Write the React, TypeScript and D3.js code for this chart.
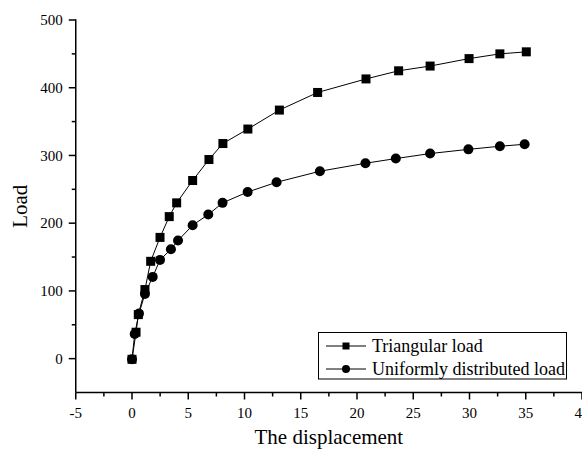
import React from "react";
import * as d3 from "d3";

const triX = [0, 0.36, 0.56, 1.15, 1.66, 2.49, 3.31, 3.97, 5.39, 6.84, 8.08, 10.3, 13.1, 16.5, 20.8, 23.7, 26.5, 29.96, 32.7, 35.05];
const triY = [-1, 39, 65, 102, 143.7, 179, 209.7, 230, 263, 294, 317.6, 339, 367, 393, 413, 425, 432, 443, 450, 453];
const uniX = [0, 0.24, 0.62, 1.15, 1.84, 2.49, 3.46, 4.09, 5.39, 6.78, 8.05, 10.28, 12.85, 16.7, 20.75, 23.45, 26.5, 29.9, 32.7, 34.9];
const uniY = [-1, 36.5, 66.5, 95.6, 120.7, 145.8, 161.5, 174.3, 197, 212.7, 230, 246, 260.4, 276.7, 288.5, 295.4, 302.8, 309, 313.6, 316.5];
const xTicks = [-5, 0, 5, 10, 15, 20, 25, 30, 35, 40];
const yTicks = [0, 100, 200, 300, 400, 500];
const seriesNames = ["Triangular load", "Uniformly distributed load"];

const W = 582, H = 457;
const FONT = "'Liberation Serif', 'Times New Roman', serif";

export default function App() {
  const x = d3.scaleLinear().domain([-5, 40]).range([75.75, 582]);
  const y = d3.scaleLinear().domain([-50, 500]).range([392.5, 20]);
  const line = d3.line<[number, number]>().x(d => x(d[0])).y(d => y(d[1]));
  const tri: [number, number][] = triX.map((v, i) => [v, triY[i]]);
  const uni: [number, number][] = uniX.map((v, i) => [v, uniY[i]]);
  const xMinor = d3.range(-2.5, 40, 5);
  const yMinor = d3.range(-50, 500, 100).map(v => v + 0).concat([]).filter(v => true).map(v => v === -50 ? -50 : v);
  const yMinorTicks = [50, 150, 250, 350, 450];
  const x0 = x(-5), yb = y(-50);
  return (
    <div style={{ position: "fixed", left: 0, top: 0 }}>
      <svg width={W} height={H} style={{ display: "block", background: "#fff" }}>
        <rect width={W} height={H} fill="#fff" />
        {/* lines */}
        <path d={line(tri) || ""} fill="none" stroke="#000" strokeWidth={1} />
        <path d={line(uni) || ""} fill="none" stroke="#000" strokeWidth={1} />
        {tri.map((d, i) => (
          <rect key={"t" + i} x={x(d[0]) - 4.5} y={y(d[1]) - 4.5} width={9} height={9} fill="#000" />
        ))}
        {uni.map((d, i) => (
          <circle key={"u" + i} cx={x(d[0])} cy={y(d[1])} r={5} fill="#000" />
        ))}
        {/* axes */}
        <line x1={x0} x2={x0} y1={y(500) - 0.75} y2={yb} stroke="#000" strokeWidth={1.5} />
        <line x1={x0} x2={x(40)} y1={yb} y2={yb} stroke="#000" strokeWidth={1.5} />
        {yTicks.map(t => (
          <g key={"yt" + t}>
            <line x1={x0 - 7} x2={x0} y1={y(t)} y2={y(t)} stroke="#000" strokeWidth={1.5} />
            <text x={x0 - 13} y={y(t)} dy="0.35em" textAnchor="end" fontFamily={FONT} fontSize={15} fill="#000">{t}</text>
          </g>
        ))}
        {yMinorTicks.map(t => (
          <line key={"ym" + t} x1={x0 - 4} x2={x0} y1={y(t)} y2={y(t)} stroke="#000" strokeWidth={1.5} />
        ))}
        {xTicks.map(t => (
          <g key={"xt" + t}>
            <line x1={x(t)} x2={x(t)} y1={yb} y2={yb + 7} stroke="#000" strokeWidth={1.5} />
            <text x={x(t)} y={yb + 20} dy="0.35em" textAnchor="middle" fontFamily={FONT} fontSize={15} fill="#000">{t}</text>
          </g>
        ))}
        {xMinor.map(t => (
          <line key={"xm" + t} x1={x(t)} x2={x(t)} y1={yb} y2={yb + 4} stroke="#000" strokeWidth={1.5} />
        ))}
        {/* titles */}
        <text x={(x0 + W) / 2} y={444} textAnchor="middle" fontFamily={FONT} fontSize={21} fill="#000">The displacement</text>
        <text transform={`translate(27,${(y(500) + yb) / 2}) rotate(-90)`} textAnchor="middle" fontFamily={FONT} fontSize={21} fill="#000">Load</text>
        {/* legend */}
        <rect x={318.5} y={332.5} width={248} height={46.5} fill="#fff" stroke="#000" strokeWidth={1} />
        {seriesNames.map((name, i) => {
          const cy = 346 + i * 23;
          return (
            <g key={name}>
              <line x1={326} x2={366} y1={cy} y2={cy} stroke="#000" strokeWidth={1} />
              {i === 0 ? (
                <rect x={346 - 3.5} y={cy - 3.5} width={7} height={7} fill="#000" />
              ) : (
                <circle cx={346} cy={cy} r={4} fill="#000" />
              )}
              <text x={372} y={cy} dy="0.35em" fontFamily={FONT} fontSize={18} fill="#000">{name}</text>
            </g>
          );
        })}
      </svg>
    </div>
  );
}
